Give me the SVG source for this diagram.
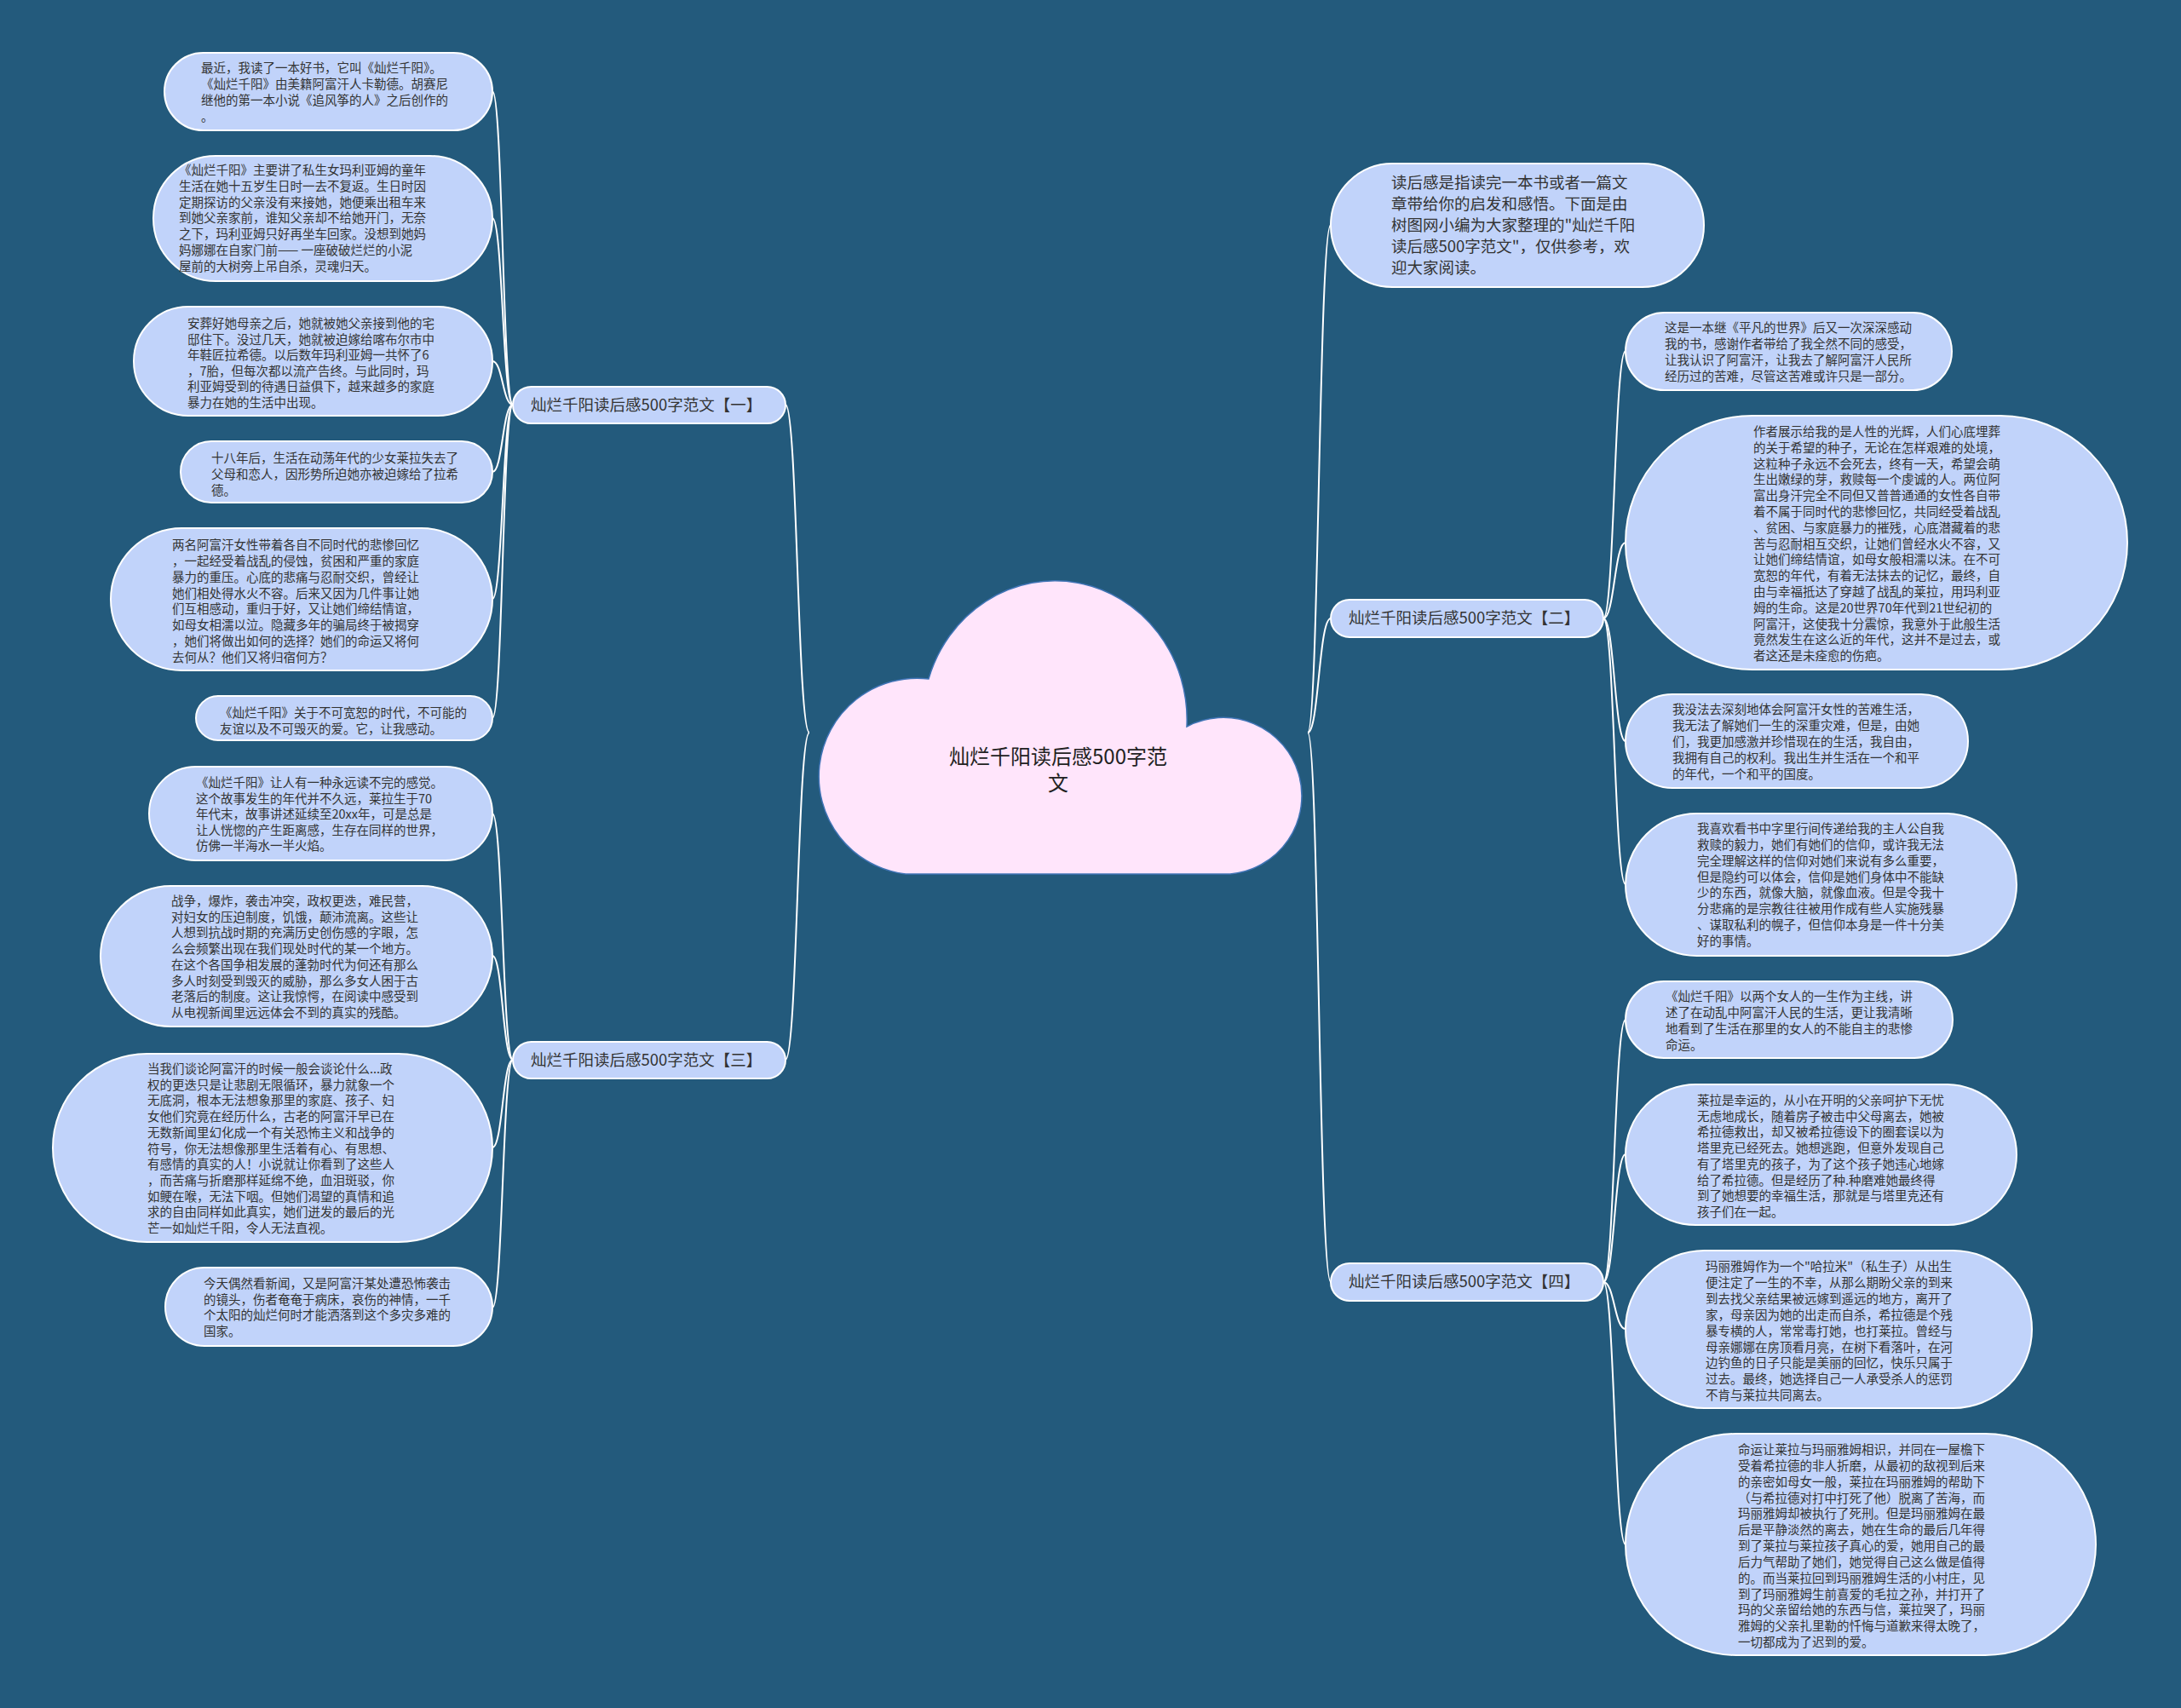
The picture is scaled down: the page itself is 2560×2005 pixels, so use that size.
<svg xmlns="http://www.w3.org/2000/svg" width="2560" height="2005" viewBox="0 0 2560 2005">
<style>
.box{fill:#c1d3fa;stroke:#ffffff;stroke-width:2}
.t{font-family:"Noto Sans CJK SC","Noto Sans",sans-serif;font-size:14.5px;fill:#333333}
.lt{font-family:"Noto Sans CJK SC","Noto Sans",sans-serif;font-size:18.5px;fill:#333333}
.ct{font-family:"Noto Sans CJK SC","Noto Sans",sans-serif;font-size:24px;fill:#222222;text-anchor:middle}
.e{fill:none;stroke:#ffffff;stroke-width:2}
</style>
<rect x="0" y="0" width="2560" height="2005" fill="#235a7c"/>
<g id="connectors">
<path class="e" d="M950 860 C936 860 936 475 922 475"/>
<path class="e" d="M950 860 C936 860 936 1244 922 1244"/>
<path class="e" d="M1535 860 C1548 860 1548 264 1562 264"/>
<path class="e" d="M1535 860 C1548 860 1548 726 1562 726"/>
<path class="e" d="M1535 860 C1548 860 1548 1505 1562 1505"/>
<path class="e" d="M602 475 C590 475 590 107 578 107"/>
<path class="e" d="M602 475 C590 475 590 256 578 256"/>
<path class="e" d="M602 475 C590 475 590 424 578 424"/>
<path class="e" d="M602 475 C590 475 590 554 578 554"/>
<path class="e" d="M602 475 C590 475 590 703 578 703"/>
<path class="e" d="M602 475 C590 475 590 843 578 843"/>
<path class="e" d="M602 1244 C590 1244 590 955 578 955"/>
<path class="e" d="M602 1244 C590 1244 590 1122 578 1122"/>
<path class="e" d="M602 1244 C590 1244 590 1347 578 1347"/>
<path class="e" d="M602 1244 C590 1244 590 1535 578 1535"/>
<path class="e" d="M1882 726 C1895 726 1895 412 1908 412"/>
<path class="e" d="M1882 726 C1895 726 1895 637 1908 637"/>
<path class="e" d="M1882 726 C1895 726 1895 870 1908 870"/>
<path class="e" d="M1882 726 C1895 726 1895 1038 1908 1038"/>
<path class="e" d="M1882 1505 C1895 1505 1895 1197 1908 1197"/>
<path class="e" d="M1882 1505 C1895 1505 1895 1355 1908 1355"/>
<path class="e" d="M1882 1505 C1895 1505 1895 1560 1908 1560"/>
<path class="e" d="M1882 1505 C1895 1505 1895 1813 1908 1813"/>
</g>
<g id="center">
<path d="M1063 1026 A113 113 0 1 1 1090 797 A155 163 0 0 1 1393 853 A92 92 0 1 1 1444 1026 Z" fill="#ffe5fb" stroke="#3f74b5" stroke-width="1.5"/>
<text class="ct" x="1242" y="897">灿烂千阳读后感500字范</text>
<text class="ct" x="1242" y="928">文</text>
</g>
<g id="b1">
<rect class="box" x="602" y="454" width="320" height="43" rx="21.5"/>
<text class="lt" x="623" y="482">灿烂千阳读后感500字范文【一】</text>
</g>
<g id="b3">
<rect class="box" x="602" y="1223" width="320" height="43" rx="21.5"/>
<text class="lt" x="623" y="1251">灿烂千阳读后感500字范文【三】</text>
</g>
<g id="b2">
<rect class="box" x="1562" y="704" width="320" height="44" rx="22"/>
<text class="lt" x="1583" y="732">灿烂千阳读后感500字范文【二】</text>
</g>
<g id="b4">
<rect class="box" x="1562" y="1483" width="320" height="44" rx="22"/>
<text class="lt" x="1583" y="1511">灿烂千阳读后感500字范文【四】</text>
</g>
<g id="intro">
<rect class="box" x="1562" y="192" width="438" height="145" rx="72.5"/>
<text class="lt" x="1633" y="221">读后感是指读完一本书或者一篇文</text>
<text class="lt" x="1633" y="246">章带给你的启发和感悟。下面是由</text>
<text class="lt" x="1633" y="271">树图网小编为大家整理的"灿烂千阳</text>
<text class="lt" x="1633" y="296">读后感500字范文"，仅供参考，欢</text>
<text class="lt" x="1633" y="321">迎大家阅读。</text>
</g>
<g id="l1">
<rect class="box" x="193" y="62" width="385" height="91" rx="45.5"/>
<text class="t" x="236" y="85">最近，我读了一本好书，它叫《灿烂千阳》。</text>
<text class="t" x="236" y="104">《灿烂千阳》由美籍阿富汗人卡勒德。胡赛尼</text>
<text class="t" x="236" y="123">继他的第一本小说《追风筝的人》之后创作的</text>
<text class="t" x="236" y="142">。</text>
</g>
<g id="l2">
<rect class="box" x="180" y="183" width="398" height="147" rx="73.5"/>
<text class="t" x="210" y="205">《灿烂千阳》主要讲了私生女玛利亚姆的童年</text>
<text class="t" x="210" y="223.8">生活在她十五岁生日时一去不复返。生日时因</text>
<text class="t" x="210" y="242.6">定期探访的父亲没有来接她，她便乘出租车来</text>
<text class="t" x="210" y="261.4">到她父亲家前，谁知父亲却不给她开门，无奈</text>
<text class="t" x="210" y="280.2">之下，玛利亚姆只好再坐车回家。没想到她妈</text>
<text class="t" x="210" y="299">妈娜娜在自家门前—— 一座破破烂烂的小泥</text>
<text class="t" x="210" y="317.8">屋前的大树旁上吊自杀，灵魂归天。</text>
</g>
<g id="l3">
<rect class="box" x="157" y="360" width="421" height="128" rx="64"/>
<text class="t" x="220" y="385">安葬好她母亲之后，她就被她父亲接到他的宅</text>
<text class="t" x="220" y="403.6">邸住下。没过几天，她就被迫嫁给喀布尔市中</text>
<text class="t" x="220" y="422.2">年鞋匠拉希德。以后数年玛利亚姆一共怀了6</text>
<text class="t" x="220" y="440.8">，7胎，但每次都以流产告终。与此同时，玛</text>
<text class="t" x="220" y="459.4">利亚姆受到的待遇日益俱下，越来越多的家庭</text>
<text class="t" x="220" y="478">暴力在她的生活中出现。</text>
</g>
<g id="l4">
<rect class="box" x="212" y="518" width="366" height="72" rx="36"/>
<text class="t" x="248" y="543">十八年后，生活在动荡年代的少女莱拉失去了</text>
<text class="t" x="248" y="562">父母和恋人，因形势所迫她亦被迫嫁给了拉希</text>
<text class="t" x="248" y="581">德。</text>
</g>
<g id="l5">
<rect class="box" x="130" y="620" width="448" height="167" rx="83.5"/>
<text class="t" x="202" y="645">两名阿富汗女性带着各自不同时代的悲惨回忆</text>
<text class="t" x="202" y="663.9">，一起经受着战乱的侵蚀，贫困和严重的家庭</text>
<text class="t" x="202" y="682.7">暴力的重压。心底的悲痛与忍耐交织，曾经让</text>
<text class="t" x="202" y="701.6">她们相处得水火不容。后来又因为几件事让她</text>
<text class="t" x="202" y="720.4">们互相感动，重归于好，又让她们缔结情谊，</text>
<text class="t" x="202" y="739.3">如母女相濡以泣。隐藏多年的骗局终于被揭穿</text>
<text class="t" x="202" y="758.2">，她们将做出如何的选择？她们的命运又将何</text>
<text class="t" x="202" y="777">去何从？他们又将归宿何方？</text>
</g>
<g id="l6">
<rect class="box" x="230" y="817" width="348" height="52" rx="26"/>
<text class="t" x="258" y="842">《灿烂千阳》关于不可宽恕的时代，不可能的</text>
<text class="t" x="258" y="861">友谊以及不可毁灭的爱。它，让我感动。</text>
</g>
<g id="l7">
<rect class="box" x="175" y="900" width="403" height="110" rx="55"/>
<text class="t" x="230" y="924">《灿烂千阳》让人有一种永远读不完的感觉。</text>
<text class="t" x="230" y="942.5">这个故事发生的年代并不久远，莱拉生于70</text>
<text class="t" x="230" y="961">年代末，故事讲述延续至20xx年，可是总是</text>
<text class="t" x="230" y="979.5">让人恍惚的产生距离感，生存在同样的世界，</text>
<text class="t" x="230" y="998">仿佛一半海水一半火焰。</text>
</g>
<g id="l8">
<rect class="box" x="118" y="1040" width="460" height="165" rx="82.5"/>
<text class="t" x="201" y="1063">战争，爆炸，袭击冲突，政权更迭，难民营，</text>
<text class="t" x="201" y="1081.7">对妇女的压迫制度，饥饿，颠沛流离。这些让</text>
<text class="t" x="201" y="1100.4">人想到抗战时期的充满历史创伤感的字眼，怎</text>
<text class="t" x="201" y="1119.1">么会频繁出现在我们现处时代的某一个地方。</text>
<text class="t" x="201" y="1137.8">在这个各国争相发展的蓬勃时代为何还有那么</text>
<text class="t" x="201" y="1156.5">多人时刻受到毁灭的威胁，那么多女人困于古</text>
<text class="t" x="201" y="1175.2">老落后的制度。这让我惊愕，在阅读中感受到</text>
<text class="t" x="201" y="1194">从电视新闻里远远体会不到的真实的残酷。</text>
</g>
<g id="l9">
<rect class="box" x="62" y="1237" width="516" height="221" rx="110.5"/>
<text class="t" x="173" y="1260">当我们谈论阿富汗的时候一般会谈论什么...政</text>
<text class="t" x="173" y="1278.7">权的更迭只是让悲剧无限循环，暴力就象一个</text>
<text class="t" x="173" y="1297.4">无底洞，根本无法想象那里的家庭、孩子、妇</text>
<text class="t" x="173" y="1316.1">女他们究竟在经历什么，古老的阿富汗早已在</text>
<text class="t" x="173" y="1334.8">无数新闻里幻化成一个有关恐怖主义和战争的</text>
<text class="t" x="173" y="1353.5">符号，你无法想像那里生活着有心、有思想、</text>
<text class="t" x="173" y="1372.2">有感情的真实的人！小说就让你看到了这些人</text>
<text class="t" x="173" y="1390.9">，而苦痛与折磨那样延绵不绝，血泪斑驳，你</text>
<text class="t" x="173" y="1409.6">如鲠在喉，无法下咽。但她们渴望的真情和追</text>
<text class="t" x="173" y="1428.3">求的自由同样如此真实，她们迸发的最后的光</text>
<text class="t" x="173" y="1447">芒一如灿烂千阳，令人无法直视。</text>
</g>
<g id="l10">
<rect class="box" x="194" y="1488" width="384" height="92" rx="46"/>
<text class="t" x="239" y="1512">今天偶然看新闻，又是阿富汗某处遭恐怖袭击</text>
<text class="t" x="239" y="1530.7">的镜头，伤者奄奄于病床，哀伤的神情，一千</text>
<text class="t" x="239" y="1549.4">个太阳的灿烂何时才能洒落到这个多灾多难的</text>
<text class="t" x="239" y="1568">国家。</text>
</g>
<g id="r1">
<rect class="box" x="1908" y="367" width="383" height="91" rx="45.5"/>
<text class="t" x="1954" y="390">这是一本继《平凡的世界》后又一次深深感动</text>
<text class="t" x="1954" y="409">我的书，感谢作者带给了我全然不同的感受，</text>
<text class="t" x="1954" y="428">让我认识了阿富汗，让我去了解阿富汗人民所</text>
<text class="t" x="1954" y="447">经历过的苦难，尽管这苦难或许只是一部分。</text>
</g>
<g id="r2">
<rect class="box" x="1908" y="488" width="589" height="298" rx="149"/>
<text class="t" x="2058" y="512">作者展示给我的是人性的光辉，人们心底埋葬</text>
<text class="t" x="2058" y="530.8">的关于希望的种子，无论在怎样艰难的处境，</text>
<text class="t" x="2058" y="549.6">这粒种子永远不会死去，终有一天，希望会萌</text>
<text class="t" x="2058" y="568.4">生出嫩绿的芽，救赎每一个虔诚的人。两位阿</text>
<text class="t" x="2058" y="587.2">富出身汗完全不同但又普普通通的女性各自带</text>
<text class="t" x="2058" y="606">着不属于同时代的悲惨回忆，共同经受着战乱</text>
<text class="t" x="2058" y="624.8">、贫困、与家庭暴力的摧残，心底潜藏着的悲</text>
<text class="t" x="2058" y="643.6">苦与忍耐相互交织，让她们曾经水火不容，又</text>
<text class="t" x="2058" y="662.4">让她们缔结情谊，如母女般相濡以沫。在不可</text>
<text class="t" x="2058" y="681.2">宽恕的年代，有着无法抹去的记忆，最终，自</text>
<text class="t" x="2058" y="700">由与幸福抵达了穿越了战乱的莱拉，用玛利亚</text>
<text class="t" x="2058" y="718.8">姆的生命。这是20世界70年代到21世纪初的</text>
<text class="t" x="2058" y="737.6">阿富汗，这使我十分震惊，我意外于此般生活</text>
<text class="t" x="2058" y="756.4">竟然发生在这么近的年代，这并不是过去，或</text>
<text class="t" x="2058" y="775.2">者这还是未痊愈的伤疤。</text>
</g>
<g id="r3">
<rect class="box" x="1908" y="815" width="402" height="110" rx="55"/>
<text class="t" x="1963" y="838">我没法去深刻地体会阿富汗女性的苦难生活，</text>
<text class="t" x="1963" y="857">我无法了解她们一生的深重灾难，但是，由她</text>
<text class="t" x="1963" y="876">们，我更加感激并珍惜现在的生活，我自由，</text>
<text class="t" x="1963" y="895">我拥有自己的权利。我出生并生活在一个和平</text>
<text class="t" x="1963" y="914">的年代，一个和平的国度。</text>
</g>
<g id="r4">
<rect class="box" x="1908" y="955" width="459" height="167" rx="83.5"/>
<text class="t" x="1992" y="978">我喜欢看书中字里行间传递给我的主人公自我</text>
<text class="t" x="1992" y="996.9">救赎的毅力，她们有她们的信仰，或许我无法</text>
<text class="t" x="1992" y="1015.7">完全理解这样的信仰对她们来说有多么重要，</text>
<text class="t" x="1992" y="1034.6">但是隐约可以体会，信仰是她们身体中不能缺</text>
<text class="t" x="1992" y="1053.4">少的东西，就像大脑，就像血液。但是令我十</text>
<text class="t" x="1992" y="1072.3">分悲痛的是宗教往往被用作成有些人实施残暴</text>
<text class="t" x="1992" y="1091.1">、谋取私利的幌子，但信仰本身是一件十分美</text>
<text class="t" x="1992" y="1110">好的事情。</text>
</g>
<g id="r5">
<rect class="box" x="1908" y="1152" width="384" height="90" rx="45"/>
<text class="t" x="1955" y="1175">《灿烂千阳》以两个女人的一生作为主线，讲</text>
<text class="t" x="1955" y="1194">述了在动乱中阿富汗人民的生活，更让我清晰</text>
<text class="t" x="1955" y="1213">地看到了生活在那里的女人的不能自主的悲惨</text>
<text class="t" x="1955" y="1232">命运。</text>
</g>
<g id="r6">
<rect class="box" x="1908" y="1273" width="459" height="165" rx="82.5"/>
<text class="t" x="1992" y="1297">莱拉是幸运的，从小在开明的父亲呵护下无忧</text>
<text class="t" x="1992" y="1315.7">无虑地成长，随着房子被击中父母离去，她被</text>
<text class="t" x="1992" y="1334.4">希拉德救出，却又被希拉德设下的圈套误以为</text>
<text class="t" x="1992" y="1353.1">塔里克已经死去。她想逃跑，但意外发现自己</text>
<text class="t" x="1992" y="1371.8">有了塔里克的孩子，为了这个孩子她违心地嫁</text>
<text class="t" x="1992" y="1390.5">给了希拉德。但是经历了种.种磨难她最终得</text>
<text class="t" x="1992" y="1409.2">到了她想要的幸福生活，那就是与塔里克还有</text>
<text class="t" x="1992" y="1428">孩子们在一起。</text>
</g>
<g id="r7">
<rect class="box" x="1908" y="1468" width="477" height="185" rx="92.5"/>
<text class="t" x="2002" y="1492">玛丽雅姆作为一个"哈拉米"（私生子）从出生</text>
<text class="t" x="2002" y="1510.9">便注定了一生的不幸，从那么期盼父亲的到来</text>
<text class="t" x="2002" y="1529.8">到去找父亲结果被远嫁到遥远的地方，离开了</text>
<text class="t" x="2002" y="1548.7">家，母亲因为她的出走而自杀，希拉德是个残</text>
<text class="t" x="2002" y="1567.6">暴专横的人，常常毒打她，也打莱拉。曾经与</text>
<text class="t" x="2002" y="1586.5">母亲娜娜在房顶看月亮，在树下看落叶，在河</text>
<text class="t" x="2002" y="1605.4">边钓鱼的日子只能是美丽的回忆，快乐只属于</text>
<text class="t" x="2002" y="1624.3">过去。最终，她选择自己一人承受杀人的惩罚</text>
<text class="t" x="2002" y="1643">不肯与莱拉共同离去。</text>
</g>
<g id="r8">
<rect class="box" x="1908" y="1683" width="552" height="260" rx="130"/>
<text class="t" x="2040" y="1707">命运让莱拉与玛丽雅姆相识，并同在一屋檐下</text>
<text class="t" x="2040" y="1725.8">受着希拉德的非人折磨，从最初的敌视到后来</text>
<text class="t" x="2040" y="1744.7">的亲密如母女一般，莱拉在玛丽雅姆的帮助下</text>
<text class="t" x="2040" y="1763.5">（与希拉德对打中打死了他）脱离了苦海，而</text>
<text class="t" x="2040" y="1782.3">玛丽雅姆却被执行了死刑。但是玛丽雅姆在最</text>
<text class="t" x="2040" y="1801.2">后是平静淡然的离去，她在生命的最后几年得</text>
<text class="t" x="2040" y="1820">到了莱拉与莱拉孩子真心的爱，她用自己的最</text>
<text class="t" x="2040" y="1838.8">后力气帮助了她们，她觉得自己这么做是值得</text>
<text class="t" x="2040" y="1857.6">的。而当莱拉回到玛丽雅姆生活的小村庄，见</text>
<text class="t" x="2040" y="1876.5">到了玛丽雅姆生前喜爱的毛拉之孙，并打开了</text>
<text class="t" x="2040" y="1895.3">玛的父亲留给她的东西与信，莱拉哭了，玛丽</text>
<text class="t" x="2040" y="1914.1">雅姆的父亲扎里勒的忏悔与道歉来得太晚了，</text>
<text class="t" x="2040" y="1933">一切都成为了迟到的爱。</text>
</g>
</svg>
